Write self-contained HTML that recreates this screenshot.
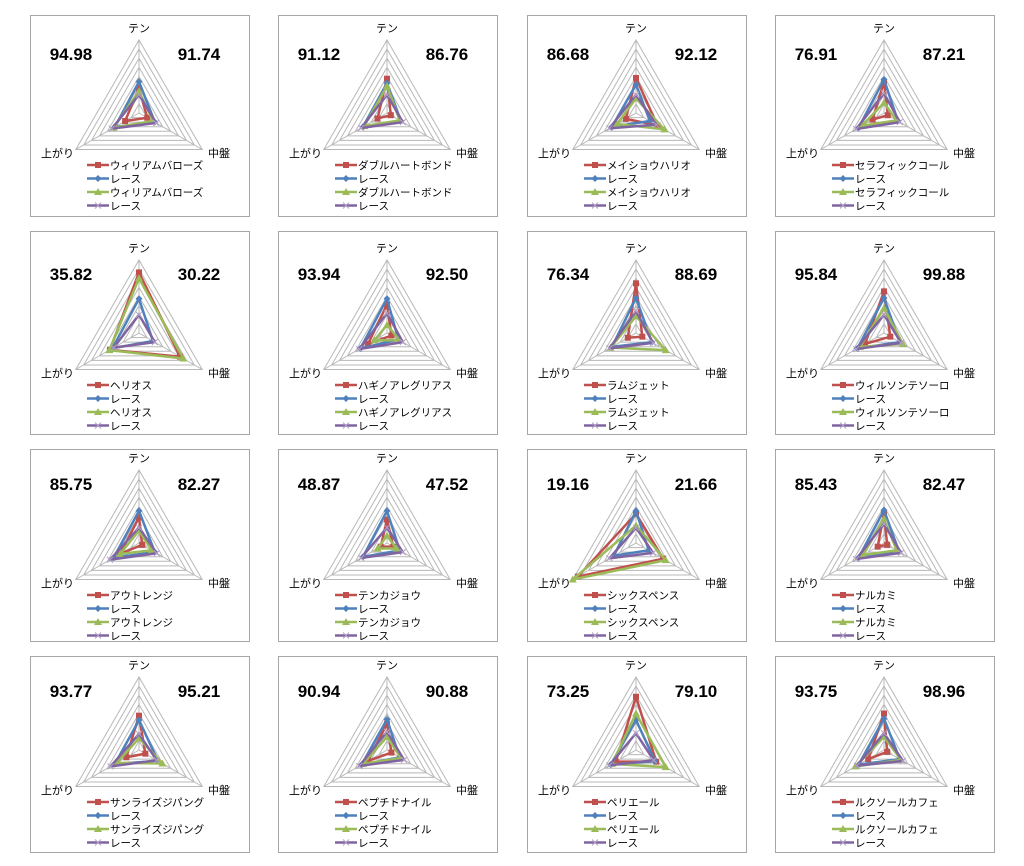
<!DOCTYPE html>
<html><head><meta charset="utf-8"><style>
body{margin:0;background:#fff;width:1024px;height:866px;overflow:hidden;font-family:"Liberation Sans","Noto Sans CJK JP",sans-serif}
svg{position:absolute;left:0;top:0}
</style></head><body>
<svg id="s" width="1024" height="866" xmlns="http://www.w3.org/2000/svg"></svg>
<script>
const axes=['テン','中盤','上がり'];
const horseNames=['ウィリアムバローズ','ダブルハートボンド','メイショウハリオ','セラフィックコール','ヘリオス','ハギノアレグリアス','ラムジェット','ウィルソンテソーロ','アウトレンジ','テンカジョウ','シックスペンス','ナルカミ','サンライズジパング','ペプチドナイル','ペリエール','ルクソールカフェ'];
const leftNums=['94.98','91.12','86.68','76.91','35.82','93.94','76.34','95.84','85.75','48.87','19.16','85.43','93.77','90.94','73.25','93.75'];
const rightNums=['91.74','86.76','92.12','87.21','30.22','92.50','88.69','99.88','82.27','47.52','21.66','82.47','95.21','90.88','79.10','98.96'];
// values per panel: [テン, 中盤, 上がり] on 0..1 scale
const redVals=[[0.34,0.13,0.22],[0.47,0.06,0.15],[0.48,0.34,0.16],[0.43,0.06,0.18],[0.83,0.65,0.46],[0.39,0.07,0.30],[0.68,0.10,0.13],[0.57,0.10,0.30],[0.35,0.05,0.30],[0.32,0.10,0.10],[0.40,0.43,0.92],[0.40,0.05,0.10],[0.47,0.10,0.20],[0.36,0.07,0.30],[0.73,0.32,0.32],[0.50,0.05,0.25]];
const blueVals=[[0.43,0.25,0.38],[0.41,0.22,0.38],[0.39,0.22,0.38],[0.46,0.22,0.40],[0.47,0.22,0.42],[0.47,0.18,0.42],[0.48,0.25,0.38],[0.48,0.25,0.42],[0.44,0.25,0.40],[0.44,0.20,0.38],[0.44,0.20,0.35],[0.45,0.24,0.40],[0.41,0.30,0.38],[0.42,0.20,0.40],[0.41,0.30,0.40],[0.43,0.25,0.40]];
const greenVals=[[0.30,0.22,0.40],[0.37,0.20,0.36],[0.20,0.45,0.30],[0.14,0.20,0.35],[0.75,0.70,0.47],[0.11,0.20,0.20],[0.23,0.47,0.40],[0.34,0.30,0.38],[0.17,0.20,0.30],[0.10,0.15,0.15],[0.24,0.47,1.00],[0.33,0.20,0.33],[0.16,0.37,0.35],[0.18,0.22,0.38],[0.50,0.47,0.38],[0.18,0.27,0.45]];
const purpleVals=[[0.25,0.27,0.43],[0.25,0.25,0.41],[0.25,0.32,0.42],[0.27,0.25,0.44],[0.25,0.25,0.40],[0.27,0.25,0.44],[0.30,0.27,0.42],[0.25,0.27,0.44],[0.21,0.28,0.46],[0.21,0.25,0.41],[0.21,0.27,0.42],[0.26,0.27,0.44],[0.22,0.28,0.45],[0.25,0.27,0.44],[0.23,0.28,0.42],[0.23,0.30,0.43]];
const seriesData=[redVals,blueVals,greenVals,purpleVals];
const colors=['#c0504d','#4f81bd','#9bbb59','#8064a2'];
const colLefts=[30,278,527,775];
const rowBox=[[15,216,40],[231,434,260],[449,641,470],[656,852,677]];
const R=73, rings=8, ang=[-90,30,150];
const NS='http://www.w3.org/2000/svg', svg=document.getElementById('s');
function mk(t,a,p){const e=document.createElementNS(NS,t);for(const k in a)e.setAttribute(k,a[k]);(p||svg).appendChild(e);return e;}
function pt(cx,cy,v,i){const a=ang[i]*Math.PI/180;return [cx+R*v*Math.cos(a),cy+R*v*Math.sin(a)];}
function marker(g,k,x,y){
 if(k==0)mk('rect',{x:x-3,y:y-3,width:6,height:6,fill:colors[0]},g);
 else if(k==1)mk('polygon',{points:`${x},${y-3.5} ${x+3.5},${y} ${x},${y+3.5} ${x-3.5},${y}`,fill:colors[1]},g);
 else if(k==2)mk('polygon',{points:`${x},${y-4} ${x+4},${y+3} ${x-4},${y+3}`,fill:colors[2]},g);
 else {mk('path',{d:`M${x-3},${y-3}L${x+3},${y+3}M${x+3},${y-3}L${x-3},${y+3}`,stroke:'#b3a2c7','stroke-width':1},g);}
}
for(let p=0;p<16;p++){
 const c=p%4,r=Math.floor(p/4),L=colLefts[c],[T,B,ay]=rowBox[r];
 const cx=L+109,cy=ay+R;
 const g=mk('g',{});
 
 
 mk('rect',{x:L+0.5,y:T+0.5,width:219,height:B-T,fill:'#fff',stroke:'#a6a6a6'},g);
 for(let k=1;k<=rings;k++){const v=k/rings;const pts=[0,1,2].map(i=>pt(cx,cy,v,i).join(',')).join(' ');
  mk('polygon',{points:pts,fill:'none',stroke:'#b8b8b8','stroke-width':1},g);}
 for(let i=0;i<3;i++){const q=pt(cx,cy,1,i);mk('line',{x1:cx,y1:cy,x2:q[0],y2:q[1],stroke:'#b8b8b8'},g);}
 const t1=mk('text',{x:cx,y:ay-8,'font-size':11,'text-anchor':'middle',fill:'#000'},g);t1.textContent=axes[0];
 
 const t2=mk('text',{x:L+178,y:ay+117,'font-size':11,fill:'#000'},g);t2.textContent=axes[1];
 
 const t3=mk('text',{x:L+11,y:ay+117,'font-size':11,fill:'#000'},g);t3.textContent=axes[2];
 
 const n1=mk('text',{x:L+41,y:ay+20,'font-size':17,'font-weight':'bold','text-anchor':'middle',fill:'#000'},g);n1.textContent=leftNums[p];
 
 const n2=mk('text',{x:L+169,y:ay+20,'font-size':17,'font-weight':'bold','text-anchor':'middle',fill:'#000'},g);n2.textContent=rightNums[p];
 
 for(let s=0;s<4;s++){
  const vals=seriesData[s][p];const pts=vals.map((v,i)=>pt(cx,cy,v,i));
  const poly=mk('polygon',{points:pts.map(q=>q.join(',')).join(' '),fill:'none',stroke:colors[s],'stroke-width':2.5,'stroke-linejoin':'round'},g);
  
  
  pts.forEach(q=>marker(g,s,q[0],q[1]));
 }
 const labels=[horseNames[p],'レース',horseNames[p],'レース'];
 for(let s=0;s<4;s++){
  const ly=ay+125+s*13.5;
  const lg=mk('g',{},g);
  
  
  mk('line',{x1:L+57,y1:ly,x2:L+79,y2:ly,stroke:colors[s],'stroke-width':2.5},lg);
  marker(lg,s,L+68,ly);
  const tt=mk('text',{x:L+80,y:ly+4,'font-size':10.5,fill:'#000'},lg);tt.textContent=labels[s];
 }
}
</script>
</body></html>
